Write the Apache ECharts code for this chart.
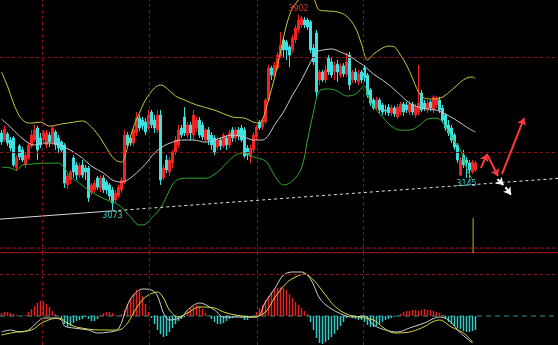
<!DOCTYPE html>
<html><head><meta charset="utf-8">
<script src="https://cdn.jsdelivr.net/npm/echarts@6/dist/echarts.min.js"></script>
<style>html,body{margin:0;padding:0;background:#000;}#c{width:558px;height:345px;}</style>
</head><body><div id="c"></div>
<script>
const slotCount = 186;
const categories = Array.from({length: slotCount}, (_, i) => 'D' + (i + 1));

// [open, close, low, high]
const candles = [
[3400,3362,3349,3413],[3370,3417,3362,3430],[3396,3357,3345,3404],[3370,3336,3323,3383],[3379,3264,3255,3387],
[3251,3294,3238,3306],[3345,3298,3285,3353],[3328,3285,3277,3340],[3264,3306,3251,3319],[3294,3349,3285,3362],
[3345,3391,3336,3413],[3370,3413,3362,3434],[3421,3328,3285,3430],[3379,3349,3336,3400],[3370,3404,3357,3413],
[3349,3400,3336,3413],[3391,3362,3340,3404],[3362,3421,3349,3430],[3404,3349,3328,3413],[3379,3336,3315,3391],
[3362,3328,3319,3370],[3349,3187,3166,3357],[3179,3217,3162,3226],[3200,3234,3183,3243],[3294,3234,3209,3306],
[3264,3221,3200,3277],[3221,3260,3209,3272],[3264,3221,3209,3285],[3251,3234,3200,3264],[3251,3124,3107,3260],
[3149,3179,3136,3187],[3158,3187,3145,3200],[3209,3170,3158,3217],[3166,3209,3149,3221],[3209,3158,3145,3221],
[3191,3158,3141,3200],[3179,3132,3115,3187],[3158,3102,3073,3170],[3115,3145,3102,3158],[3132,3170,3124,3179],
[3158,3200,3145,3213],[3191,3391,3183,3413],[3391,3349,3340,3404],[3379,3357,3345,3391],[3357,3413,3345,3430],
[3400,3464,3387,3489],[3464,3421,3408,3476],[3455,3430,3413,3468],[3447,3404,3391,3464],[3421,3476,3413,3498],
[3489,3434,3421,3498],[3455,3421,3400,3476],[3413,3476,3400,3498],[3476,3200,3179,3498],[3209,3251,3200,3264],
[3285,3243,3230,3306],[3234,3285,3217,3298],[3272,3319,3251,3328],[3319,3370,3306,3387],[3349,3413,3336,3434],
[3421,3391,3379,3434],[3468,3400,3387,3510],[3391,3434,3379,3447],[3434,3400,3370,3447],[3391,3476,3370,3498],
[3421,3455,3404,3468],[3455,3391,3379,3468],[3434,3383,3370,3447],[3370,3413,3362,3421],[3413,3370,3349,3425],
[3391,3349,3328,3404],[3379,3319,3306,3391],[3340,3370,3328,3383],[3370,3345,3328,3383],[3345,3391,3336,3400],
[3379,3349,3328,3391],[3349,3400,3336,3413],[3413,3379,3362,3425],[3379,3413,3362,3425],[3413,3387,3370,3425],
[3421,3370,3362,3434],[3413,3302,3294,3425],[3336,3306,3285,3349],[3298,3336,3272,3349],[3328,3391,3315,3404],
[3383,3425,3370,3434],[3447,3421,3413,3455],[3425,3455,3413,3464],[3447,3540,3438,3549],[3540,3676,3532,3689],
[3676,3646,3625,3685],[3642,3689,3634,3702],[3676,3731,3668,3744],[3727,3774,3719,3829],[3795,3753,3723,3808],
[3787,3753,3710,3795],[3765,3731,3680,3774],[3753,3804,3740,3816],[3795,3846,3782,3859],[3838,3880,3825,3902],
[3859,3889,3846,3898],[3880,3859,3846,3893],[3880,3850,3838,3889],[3872,3753,3740,3880],[3761,3702,3689,3778],
[3825,3574,3553,3838],[3625,3659,3604,3668],[3659,3625,3617,3668],[3625,3668,3612,3689],[3719,3659,3646,3731],
[3702,3646,3634,3719],[3659,3689,3625,3702],[3693,3659,3617,3710],[3646,3685,3634,3697],[3685,3651,3638,3697],
[3651,3702,3638,3740],[3731,3604,3583,3744],[3625,3659,3612,3668],[3659,3625,3612,3676],[3617,3651,3604,3668],
[3659,3625,3612,3668],[3676,3634,3617,3689],[3646,3561,3549,3655],[3583,3527,3515,3591],[3540,3506,3498,3549],
[3506,3540,3498,3553],[3540,3498,3485,3549],[3519,3489,3476,3527],[3498,3493,3476,3519],[3510,3485,3472,3523],
[3485,3506,3472,3519],[3506,3481,3468,3515],[3468,3510,3459,3523],[3489,3523,3476,3532],[3523,3489,3472,3532],
[3519,3498,3485,3532],[3489,3523,3476,3536],[3523,3489,3476,3532],[3476,3510,3464,3523],[3489,3527,3476,3689],
[3570,3498,3489,3583],[3527,3506,3493,3540],[3498,3527,3485,3540],[3532,3506,3493,3540],[3498,3553,3485,3561],
[3519,3549,3506,3557],[3540,3498,3485,3553],[3506,3455,3442,3519],[3476,3421,3408,3485],[3434,3400,3387,3455],
[3421,3370,3357,3434],[3391,3340,3328,3400],[3349,3285,3272,3357],[3221,3285,3217,3298],[3306,3264,3251,3328],
[3285,3272,3209,3298],[3272,3243,3209,3285],[3234,3277,3226,3285],[3243,3272,3234,3281]
];

// Bollinger bands: [bar index, price]
const bollUpper = [[0,3659],[2,3599],[4,3527],[6,3472],[8,3446],[10,3442],[13,3446],[16,3429],[20,3438],[24,3446],[27,3451],[30,3425],[33,3378],[36,3315],[38,3285],[40,3276],[41,3293],[42,3340],[44,3425],[46,3485],[48,3540],[51,3591],[53,3604],[55,3591],[58,3557],[61,3540],[65,3519],[71,3497],[77,3468],[81,3463],[84,3446],[86,3442],[87,3455],[89,3540],[91,3633],[93,3744],[95,3859],[97,3931],[99,3965],[100,3982],[102,3999],[104,3973],[106,3922],[109,3918],[112,3914],[115,3897],[118,3846],[120,3778],[122,3710],[124,3735],[127,3761],[129,3769],[131,3765],[133,3731],[135,3689],[137,3633],[139,3574],[141,3548],[144,3544],[147,3553],[150,3582],[153,3616],[155,3633],[157,3638],[158,3629]];
const bollMid = [[0,3459],[3,3425],[6,3387],[9,3357],[11,3349],[14,3357],[17,3357],[21,3340],[24,3319],[27,3293],[30,3259],[34,3230],[37,3200],[40,3191],[42,3200],[45,3230],[48,3268],[51,3315],[54,3344],[57,3361],[60,3370],[64,3370],[68,3361],[72,3374],[77,3391],[81,3382],[84,3370],[87,3370],[89,3391],[91,3434],[94,3489],[97,3561],[100,3625],[103,3701],[105,3744],[107,3752],[110,3757],[113,3744],[116,3727],[119,3701],[121,3684],[124,3650],[127,3625],[130,3595],[133,3561],[136,3527],[139,3510],[142,3502],[145,3497],[148,3480],[151,3459],[154,3434],[156,3417],[158,3404]];
const bollLower = [[0,3255],[3,3251],[5,3242],[7,3264],[10,3268],[14,3272],[19,3272],[21,3251],[23,3213],[26,3187],[29,3157],[33,3128],[36,3111],[38,3102],[40,3085],[43,3043],[46,3009],[48,3013],[50,3039],[52,3064],[54,3102],[56,3157],[58,3196],[61,3208],[68,3208],[72,3234],[75,3272],[78,3306],[81,3315],[84,3298],[88,3281],[90,3242],[92,3200],[94,3179],[97,3196],[100,3251],[102,3370],[104,3489],[106,3578],[109,3587],[112,3578],[115,3557],[118,3565],[121,3599],[122,3561],[124,3514],[127,3468],[130,3429],[133,3412],[136,3412],[139,3429],[142,3459],[145,3463],[147,3446],[150,3383],[153,3327],[155,3251],[157,3200]];

// MACD
const macdHist = [3,4,4,3,2, 1,0,0,1, 4,7,10,13,15,14,12,9,5, 2,0,
 -3,-8,-11,-10,-7,-5,-4,-3,-1,-3,-5,-5,-3, 1,3,4,4,3,1,0,2,
 6,12,18,22,26,25,20,12,4,-2, -8,-14,-18,-21,-20,-16,-12,-8,-5,-3,-1,
 5,8,10,11,10,7,3,0, -3,-6,-8,-8,-7,-5,-3,-2,-1,0,-2,-4,-4,-2,0,
 4,8,11,16,20,24,27,28,29,28,26,22,18,14,11,8,5,2,
 -6,-14,-22,-27,-28,-26,-24,-21,-18,-14,-10,-6,-2,0,
 -2,-3,-4,-4,-6,-9,-11,-11,-10,-8,-6,-4,-3,-2,-1,0,
 2,4,5,5,6,6,5,6,7,6,6,5,4,3,1,
 -3,-6,-8,-10,-12,-13,-15,-16,-16,-15,-14];
const macdDif = [[0,-16],[3,-14],[6,-16],[9,-14],[12,-6],[14,-2],[17,-2],[20,-4],[21,-10],[24,-12],[29,-14],[32,-17],[36,-16],[39,-13],[42,11],[44,21],[47,27],[50,26],[52,20],[54,3],[56,-4],[60,-1],[62,6],[66,13],[71,6],[74,-1],[78,-1],[85,-1],[88,14],[91,27],[94,41],[97,44],[100,44],[103,37],[106,18],[109,9],[114,1],[117,-1],[121,0],[124,-9],[128,-14],[132,-16],[136,-12],[141,-7],[146,-1],[149,-4],[153,-17],[157,-27]];
const macdDea = [[0,-19],[5,-16],[10,-14],[14,-6],[19,-2],[22,-7],[25,-11],[33,-14],[39,-14],[42,-7],[45,8],[48,19],[52,24],[54,18],[56,6],[59,-1],[62,3],[66,9],[71,8],[74,4],[78,1],[84,-1],[88,4],[91,18],[95,33],[98,39],[101,42],[104,36],[108,21],[111,10],[115,2],[119,-1],[124,-4],[127,-11],[131,-17],[136,-16],[140,-12],[146,-4],[150,-11],[154,-17],[157,-26]];

// annotations
const trendSolid = [[-0.5,3034],[37,3069]];
const trendDashed = [[37,3069],[185.5,3207]];
const volumeMark = [[157.2,3039],[157.2,2890]];
const extremeLabels = [
  {idx:99, price:3902, text:'3902', where:'top', color:'#d2302a'},
  {idx:37, price:3073, text:'3073', where:'bottom', color:'#3ccccc'},
  {idx:155, price:3209, text:'3145', where:'bottom', color:'#3ccccc'}
];
const redArrows = [
  [[159.8,3251],[161.8,3310]],
  [[161.8,3310],[165.5,3217]],
  [[166.8,3225],[174.2,3463]]
];
const whiteArrows = [
  [[165.3,3204],[167.3,3179]],
  [[168.0,3170],[169.8,3138]]
];
const vGridIdx = [13.7, 49.3, 85.1, 120.5];
const hGridPrice = [3723, 3319];
const hGridMacd = [42];
const panelBreakPrices = [2911, 2891];

const RED = '#f02222', CYAN = '#3fe0e0';
const chart = echarts.init(document.getElementById('c'));

const gridDash = {color:'#8c1414', type:[3,3], width:1};
function lineSeries(data, color, opts) {
  return Object.assign({type:'line', xAxisIndex:1, yAxisIndex:0, data, smooth:0.35, showSymbol:false, symbol:'none',
    lineStyle:{color, width:1}, itemStyle:{color}, silent:true, z:3}, opts || {});
}

chart.setOption({
  backgroundColor:'#000',
  animation:false,
  grid:[{left:0,right:0,top:0,height:253},{left:0,right:0,top:253,height:92}],
  xAxis:[
    {type:'category', gridIndex:0, data:categories, show:false},
    {type:'value', gridIndex:0, min:-0.5, max:slotCount-0.5, show:false},
    {type:'category', gridIndex:1, data:categories, show:false},
    {type:'value', gridIndex:1, min:-0.5, max:slotCount-0.5, show:false}
  ],
  yAxis:[
    {type:'value', gridIndex:0, min:2890, max:3965, show:false},
    {type:'value', gridIndex:1, min:-29, max:63, show:false}
  ],
  series:[
    {type:'line', xAxisIndex:1, yAxisIndex:0, data:[[-0.5,2950]], showSymbol:false, lineStyle:{opacity:0}, itemStyle:{color:'#8c1414'}, silent:true, z:1,
     markLine:{silent:true, symbol:'none', label:{show:false}, lineStyle:gridDash, animation:false,
       data:[...vGridIdx.map(v=>({xAxis:v})), ...hGridPrice.map(p=>({yAxis:p}))]}},
    {type:'line', xAxisIndex:3, yAxisIndex:1, data:[[-0.5,0]], showSymbol:false, lineStyle:{opacity:0}, itemStyle:{color:'#8c1414'}, silent:true, z:1,
     markLine:{silent:true, symbol:'none', label:{show:false}, lineStyle:gridDash, animation:false,
       data:[...vGridIdx.map(v=>({xAxis:v})), ...hGridMacd.map(p=>({yAxis:p}))]}},
    lineSeries([[-0.5,0],[slotCount-0.5,0]], '#2a9a9a', {xAxisIndex:3, yAxisIndex:1, smooth:false, z:1, lineStyle:{color:'#2a9a9a', width:1, type:[5,4]}}),
    lineSeries([[-0.5,panelBreakPrices[0]],[slotCount-0.5,panelBreakPrices[0]]], '#a01818', {smooth:false, z:1, lineStyle:{color:'#a01818', width:1, type:[4,2]}}),
    lineSeries([[-0.5,panelBreakPrices[1]],[slotCount-0.5,panelBreakPrices[1]]], '#c81e1e', {smooth:false, z:1}),
    {type:'candlestick', xAxisIndex:0, yAxisIndex:0, data:candles, barWidth:1.6, z:2,
     itemStyle:{color:RED, color0:CYAN, borderColor:RED, borderColor0:CYAN, borderWidth:1},
     markPoint:{symbol:'circle', symbolSize:0, animation:false,
       data: extremeLabels.map(m=>({coord:[m.idx, m.price], value:m.text,
         label:{show:true, formatter:m.text, position:m.where, distance:2, color:m.color, fontSize:8, fontFamily:'DejaVu Sans'}}))}},
    lineSeries(bollUpper, '#c8c83a'),
    lineSeries(bollMid, '#c8c8c8'),
    lineSeries(bollLower, '#2eaa2e'),
    lineSeries(trendSolid, '#d8d8d8', {smooth:false}),
    lineSeries(trendDashed, '#e0e0e0', {smooth:false, lineStyle:{color:'#e0e0e0', width:1, type:[3,3]}}),
    lineSeries(volumeMark, '#c8b400', {smooth:false}),
    {type:'line', xAxisIndex:1, yAxisIndex:0, data:[[180,3000]], showSymbol:false, lineStyle:{opacity:0}, silent:true, z:5,
     markLine:{silent:true, symbol:['none','arrow'], symbolSize:7, label:{show:false}, animation:false,
       data:[...redArrows.map(a=>[{coord:a[0], lineStyle:{color:'#ff3a3a', width:2, type:'solid'}, itemStyle:{color:'#ff3a3a'}},{coord:a[1]}]),
             ...whiteArrows.map(a=>[{coord:a[0], lineStyle:{color:'#ffffff', width:2, type:'solid'}, itemStyle:{color:'#ffffff'}},{coord:a[1]}])]}},
    {type:'bar', xAxisIndex:2, yAxisIndex:1, data:macdHist, barWidth:1.5, silent:true, z:2,
     itemStyle:{color:p=>p.value>=0?'#e02222':'#34c8c8'}},
    lineSeries(macdDif, '#d0d0d0', {xAxisIndex:3, yAxisIndex:1}),
    lineSeries(macdDea, '#d8d840', {xAxisIndex:3, yAxisIndex:1})
  ]
});
</script></body></html>
